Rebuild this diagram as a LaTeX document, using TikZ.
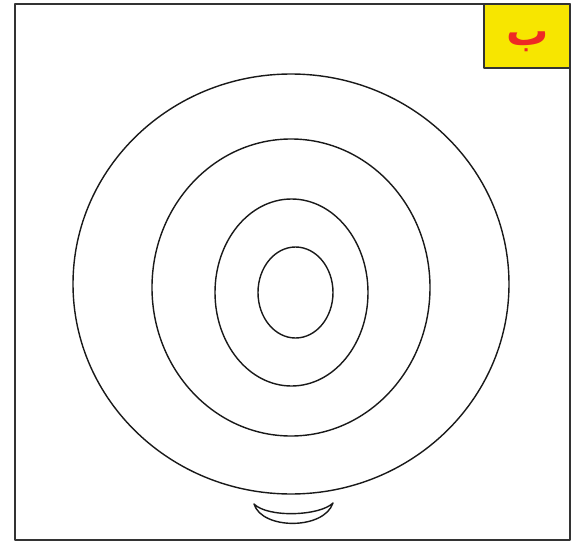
\documentclass[tikz,border=0pt]{standalone}
\usepackage{fontspec}
\newfontfamily\arabicfont[Script=Arabic, BoldFont={DejaVu Sans Bold}]{DejaVu Sans}
\TeXXeTstate=1
\usepackage{tikz}
\usetikzlibrary{positioning}
\definecolor{tagyellow}{HTML}{F7E600}
\definecolor{tagred}{HTML}{EE2A24}
\colorlet{ringline}{black!90}

\begin{document}
\begin{tikzpicture}[x=0.02cm, y=-0.02cm, line join=round]
    \useasboundingbox (0,0) rectangle (579,541);
    % Outer frame
    \draw[line width=1.1pt, draw=black!80] (15,4) rectangle (570,540);

    % Label box
    \draw[fill=tagyellow, draw=black!80, line width=1.1pt] (484,4) rectangle (570,68);
    \node[text=tagred, inner sep=0pt, font=\fontsize{24}{24}\arabicfont\bfseries\selectfont] (lbl) at (528,42) {\beginR ب\endR};

    % Rings
    \draw[ringline, line width=0.8pt] (291,284) ellipse [x radius=218, y radius=210];
    \draw[ringline, line width=0.8pt] (291,287.5) ellipse [x radius=139, y radius=148.5];
    \draw[ringline, line width=0.8pt] (291.5,292.5) ellipse [x radius=76.5, y radius=93.5];
    \draw[ringline, line width=0.8pt] (295.5,292.5) ellipse [x radius=37.5, y radius=45.5];

    % Small bowl below
    \draw[ringline, line width=0.8pt] (254,504) .. controls (262,530) and (324,530) .. (333,503)
        .. controls (320,516) and (268,518) .. (254,504) -- cycle;
\end{tikzpicture}
\end{document}
